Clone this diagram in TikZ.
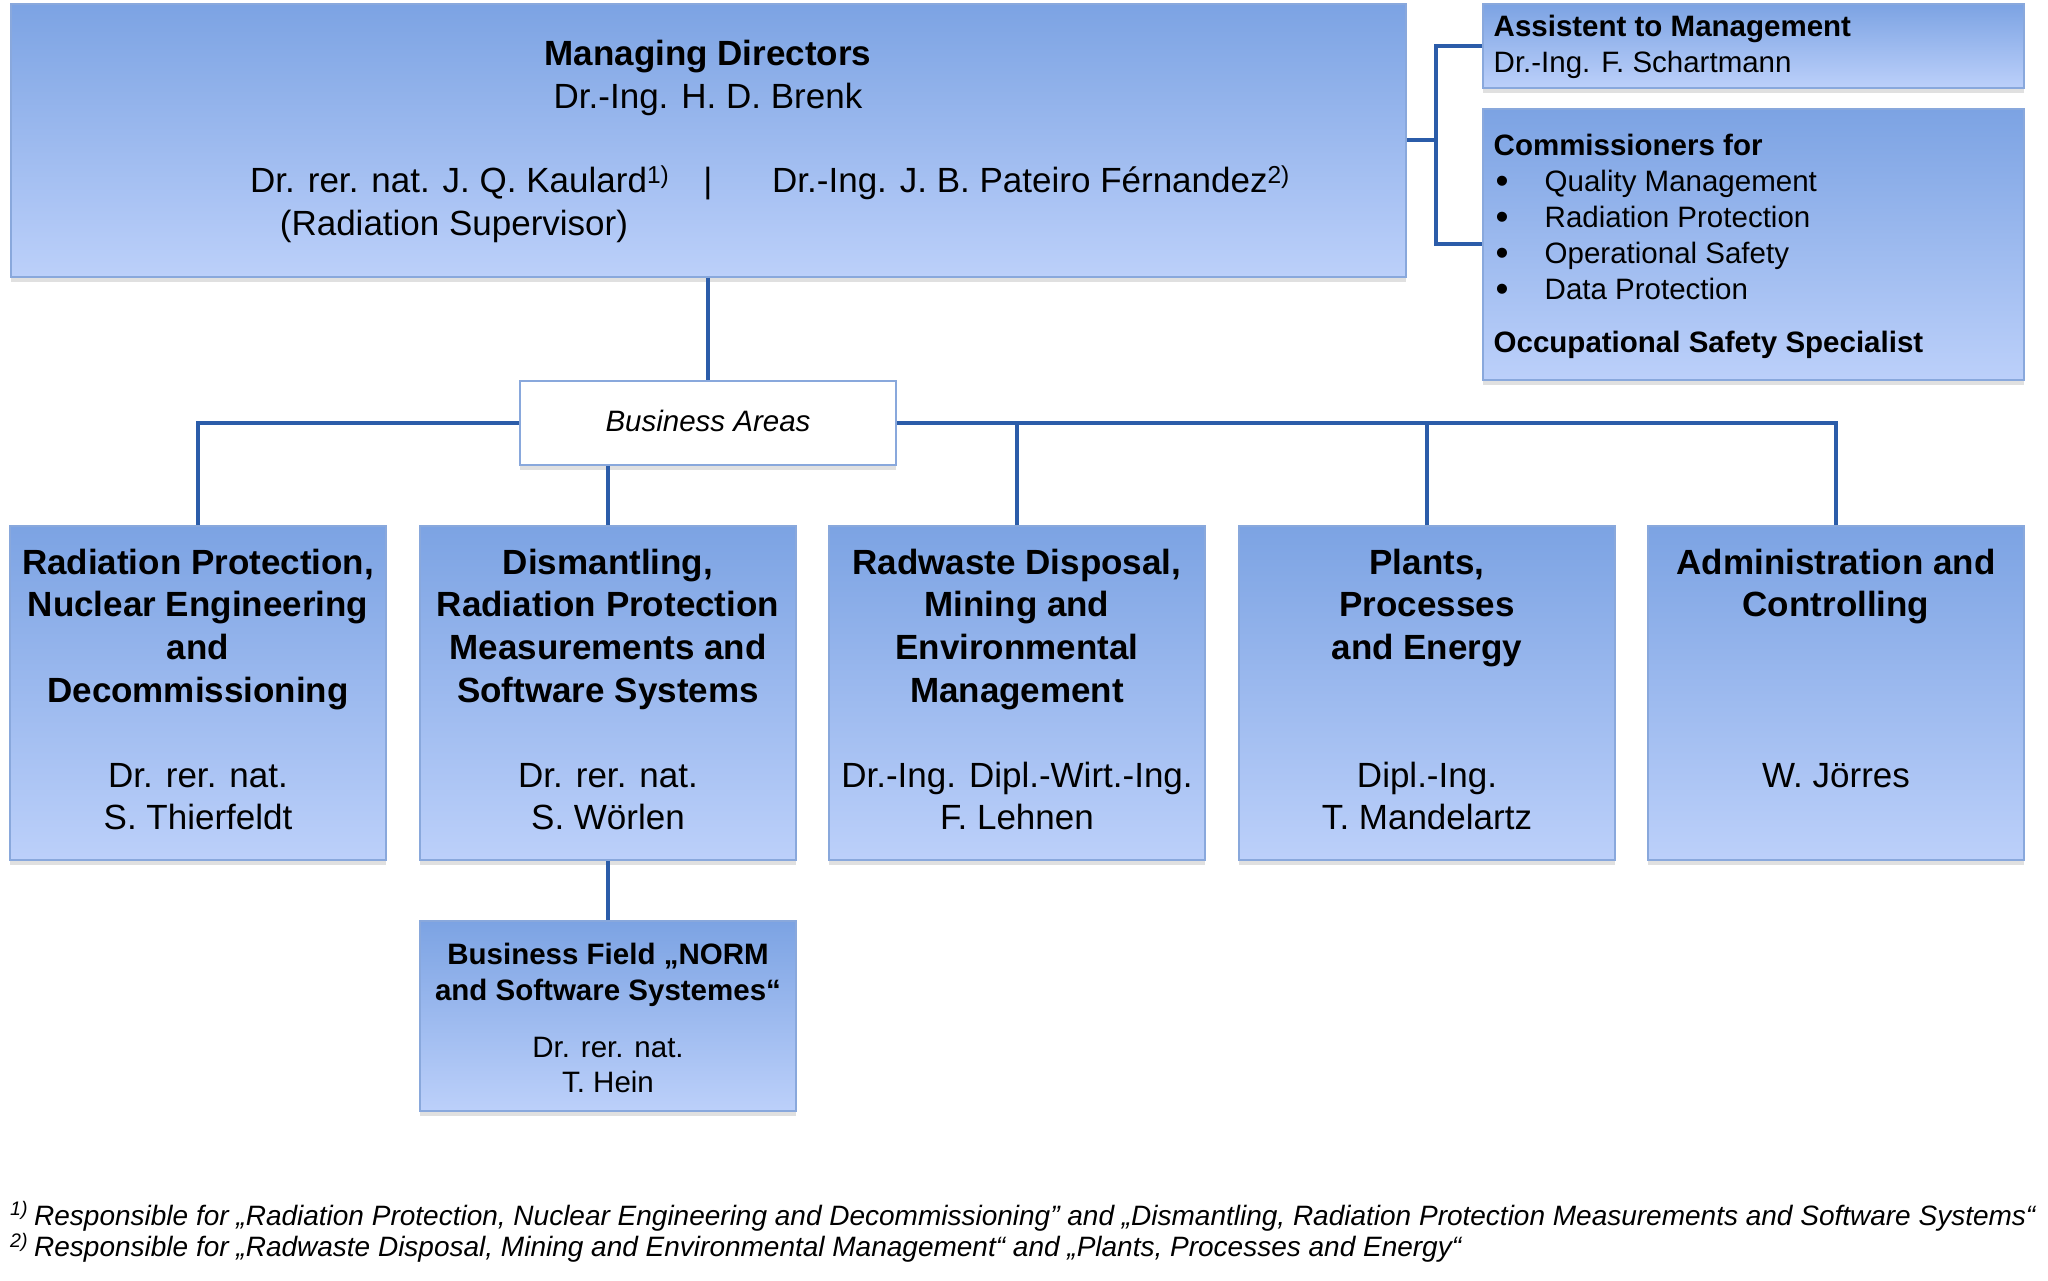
\documentclass[tikz,border=0pt]{standalone}
\usepackage{fontspec}
\setmainfont{Liberation Sans}
\usetikzlibrary{shadows}
\definecolor{boxtop}{HTML}{7CA3E3}
\definecolor{boxbot}{HTML}{BCD0FA}
\definecolor{boxline}{HTML}{89A8DC}
\definecolor{conncol}{HTML}{2B5CA9}
\newcommand{\blt}{\makebox[51pt][l]{\hspace{2pt}\raisebox{-2pt}{\fontsize{37}{36}\selectfont •}}}
\tikzset{
  shad/.style={drop shadow={shadow xshift=0pt, shadow yshift=-5pt, opacity=0.12, fill=black}},
  bluebox/.style={rectangle, draw=boxline, line width=1.5pt, top color=boxtop, bottom color=boxbot, inner sep=0pt, shad},
  whitebox/.style={rectangle, draw=boxline, line width=1.5pt, fill=white, inner sep=0pt, shad},
  conn/.style={draw=conncol, line width=4pt},
  bigttl/.style={font=\fontsize{35}{42.7}\selectfont\bfseries, align=center, anchor=north, inner sep=0pt},
  bignm/.style={font=\fontsize{35}{42.5}\selectfont, align=center, anchor=north, inner sep=0pt},
  bigln/.style={font=\fontsize{35}{43}\selectfont, inner sep=0pt},
  smtxt/.style={font=\fontsize{29.5}{36}\selectfont, inner sep=0pt},
  fntxt/.style={font=\fontsize{28}{32}\selectfont\itshape, inner sep=0pt, anchor=base west},
}
\begin{document}
\begin{tikzpicture}[x=1pt, y=-1pt]
\useasboundingbox[fill=white] (0,0) rectangle (2048,1281);

% boxes
\node[bluebox, minimum width=1395pt, minimum height=273pt] (md) at (708.5,140.5) {};
\node[bluebox, minimum width=541pt, minimum height=84pt] (asst) at (1753.5,46) {};
\node[bluebox, minimum width=541pt, minimum height=271pt] (comm) at (1753.5,244.5) {};
\node[whitebox, minimum width=376pt, minimum height=84pt] (ba) at (708,423) {};
\node[bluebox, minimum width=376pt, minimum height=334pt] (a1) at (198,693) {};
\node[bluebox, minimum width=376pt, minimum height=334pt] (a2) at (608,693) {};
\node[bluebox, minimum width=376pt, minimum height=334pt] (a3) at (1017,693) {};
\node[bluebox, minimum width=376pt, minimum height=334pt] (a4) at (1427,693) {};
\node[bluebox, minimum width=376pt, minimum height=334pt] (a5) at (1836,693) {};
\node[bluebox, minimum width=376pt, minimum height=190pt] (bf) at (608,1016) {};

% connectors
\coordinate (j) at (1436,140.5);
\draw[conn] (md.south -| ba.north) -- (ba.north);
\draw[conn] (ba.west) -| (a1.north);
\draw[conn] (ba.east) -| (a5.north);
\draw[conn] (a3.north |- ba.east) -- (a3.north);
\draw[conn] (a4.north |- ba.east) -- (a4.north);
\draw[conn] (a2.north |- ba.south) -- (a2.north);
\draw[conn] (a2.south) -- (bf.north);
\draw[conn] (md.east) -- (j);
\draw[conn] (asst.west) -| (j) |- (comm.west);

% managing directors
\node[bigln, align=center, anchor=north] (mdt) at (708,34.9) {\strut\textbf{Managing Directors}\\Dr.-Ing. H. D. Brenk};
\node[bigln, anchor=base west] (kau) at (250,193) {Dr. rer. nat. J. Q. Kaulard\textsuperscript{1)}};
\node[bigln, anchor=base] (sep) at (708,193) {|};
\node[bigln, anchor=base west] (pat) at (772,193) {Dr.-Ing. J. B. Pateiro Férnandez\textsuperscript{2)}};
\node[bigln, anchor=base] (sup) at (454,236) {(Radiation Supervisor)};

% assistant and commissioners
\node[smtxt, align=left, anchor=north west] (asstt) at (1493.5,11.1) {\strut\textbf{Assistent to Management}\\Dr.-Ing. F. Schartmann};
\node[smtxt, align=left, anchor=north west] (commt) at (1493.5,130.1) {\strut\textbf{Commissioners for}\\
\blt Quality Management\\
\blt Radiation Protection\\
\blt Operational Safety\\
\blt Data Protection\\[17.4pt]
\textbf{Occupational Safety Specialist}};

% business areas
\node[smtxt, anchor=base] (bat) at (708,431) {\itshape Business Areas};

\node[bigttl] (a1t) at (198,544.1) {\strut Radiation Protection,\\Nuclear Engineering\\and\\Decommissioning};
\node[bignm] (a1n) at (198,757.25) {\strut Dr. rer. nat.\\S. Thierfeldt};
\node[bigttl] (a2t) at (608,544.1) {\strut Dismantling,\\Radiation Protection\\Measurements and\\Software Systems};
\node[bignm] (a2n) at (608,757.25) {\strut Dr. rer. nat.\\S. Wörlen};
\node[bigttl] (a3t) at (1017,544.1) {\strut Radwaste Disposal,\\Mining and\\Environmental\\Management};
\node[bignm] (a3n) at (1017,757.25) {\strut Dr.-Ing. Dipl.-Wirt.-Ing.\\F. Lehnen};
\node[bigttl] (a4t) at (1427,544.1) {\strut Plants,\\Processes\\and Energy};
\node[bignm] (a4n) at (1427,757.25) {\strut Dipl.-Ing.\\T. Mandelartz};
\node[bigttl] (a5t) at (1836,544.1) {\strut Administration and\\Controlling};
\node[bignm] (a5n) at (1836,757.25) {\strut W. Jörres};

% business field
\node[smtxt, align=center, anchor=north] (bft) at (608,939.1) {\strut\textbf{Business Field „NORM}\\\textbf{and Software Systemes“}};
\node[font=\fontsize{29.5}{35}\selectfont, inner sep=0pt, align=center, anchor=north] (bfn) at (608,1032.5) {\strut Dr. rer. nat.\\T. Hein};

% footnotes
\node[fntxt] (fn1) at (10,1225) {\makebox[24pt][l]{\textsuperscript{1)}}Responsible for „Radiation Protection, Nuclear Engineering and Decommissioning” and „Dismantling, Radiation Protection Measurements and Software Systems“};
\node[fntxt] (fn2) at (10,1256.7) {\makebox[24pt][l]{\textsuperscript{2)}}Responsible for „Radwaste Disposal, Mining and Environmental Management“ and „Plants, Processes and Energy“};
\end{tikzpicture}
\end{document}
